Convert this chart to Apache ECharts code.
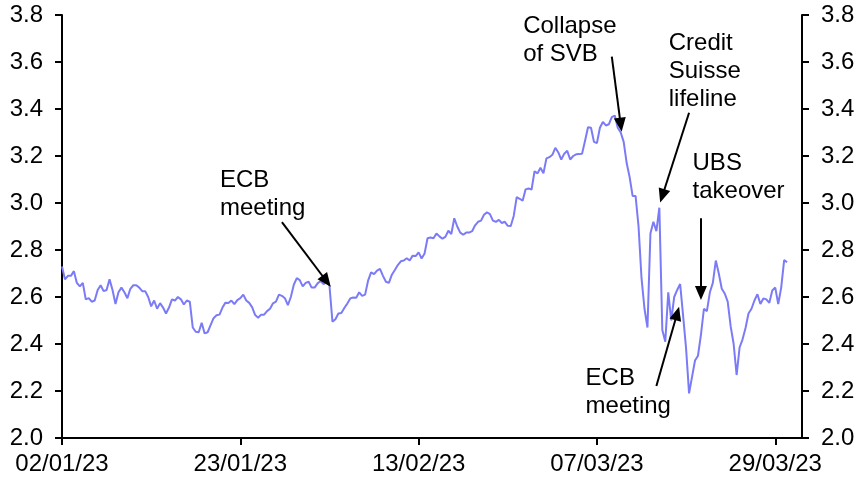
<!DOCTYPE html>
<html>
<head>
<meta charset="utf-8">
<script src="https://cdn.jsdelivr.net/npm/echarts@6/dist/echarts.min.js"></script>
<style>
html,body{margin:0;padding:0;background:#fff;}
#chart{width:863px;height:483px;}
</style>
</head>
<body>
<div id="chart"></div>
<script>
// Tick labels on the x axis (one every samplesPerTick sample slots)
const tickLabels = ['02/01/23', '23/01/23', '13/02/23', '07/03/23', '29/03/23'];
const samplesPerTick = 60;
const slotCount = 250;

// Yield values, one per sample slot
const yields = [
2.73,2.675,2.69,2.69,2.71,2.66,2.645,2.66,2.59,2.595,
2.58,2.585,2.63,2.65,2.625,2.63,2.675,2.63,2.57,2.62,
2.64,2.62,2.595,2.635,2.65,2.65,2.64,2.625,2.625,2.60,
2.56,2.585,2.55,2.574,2.555,2.53,2.555,2.59,2.585,2.60,
2.59,2.568,2.585,2.58,2.47,2.452,2.45,2.49,2.445,2.45,
2.48,2.51,2.522,2.525,2.555,2.576,2.574,2.585,2.57,2.587,
2.595,2.61,2.585,2.575,2.556,2.523,2.512,2.525,2.525,2.54,
2.55,2.573,2.58,2.61,2.605,2.595,2.565,2.60,2.652,2.68,
2.672,2.645,2.66,2.665,2.64,2.64,2.658,2.668,2.655,2.663,
2.648,2.495,2.505,2.53,2.532,2.553,2.572,2.594,2.598,2.597,
2.62,2.605,2.61,2.67,2.705,2.697,2.712,2.72,2.69,2.665,
2.66,2.695,2.715,2.736,2.752,2.755,2.765,2.755,2.776,2.774,
2.79,2.764,2.785,2.85,2.853,2.85,2.87,2.858,2.848,2.856,
2.882,2.868,2.935,2.9,2.874,2.865,2.874,2.874,2.88,2.905,
2.92,2.925,2.95,2.96,2.953,2.925,2.92,2.928,2.915,2.92,
2.903,2.902,2.945,3.025,3.018,3.01,3.058,3.062,3.057,3.135,
3.126,3.15,3.126,3.19,3.195,3.205,3.235,3.215,3.185,3.21,
3.222,3.185,3.2,3.207,3.208,3.21,3.265,3.322,3.32,3.26,
3.255,3.32,3.345,3.33,3.335,3.365,3.372,3.32,3.30,3.26,
3.17,3.11,3.03,3.03,2.9,2.68,2.55,2.47,2.87,2.92,
2.88,2.98,2.46,2.41,2.62,2.50,2.6,2.63,2.655,2.52,
2.38,2.19,2.26,2.33,2.35,2.44,2.55,2.54,2.62,2.66,
2.755,2.70,2.635,2.615,2.58,2.475,2.40,2.268,2.385,2.42,
2.468,2.53,2.55,2.585,2.612,2.57,2.594,2.59,2.575,2.628,
2.64,2.57,2.64,2.757,2.748
];

// Annotations: text, text anchor [slot, value], arrow [from slot, from value, to slot, to value]
const annotationTexts = ['ECB\nmeeting', 'Collapse\nof SVB', 'Credit\nSuisse\nlifeline', 'UBS\ntakeover', 'ECB\nmeeting'];
const annotationAnchors = [[53.0, 3.036], [154.6, 3.694], [204.1, 3.562], [212.2, 3.109], [175.5, 2.194]];
const annotationArrows = [
  [74.4, 2.919, 88.8, 2.667],
  [185.4, 3.623, 187.6, 3.333],
  [210.8, 3.384, 202.0, 3.030],
  [215.3, 2.935, 215.3, 2.617],
  [200.2, 2.221, 207.4, 2.530]
];

const categories = Array.from({length: slotCount}, (_, i) => String(i));
const isTick = (i) => i % samplesPerTick === 0;
const FONT = 'Liberation Sans, Arial, sans-serif';

const chart = echarts.init(document.getElementById('chart'), null, {renderer: 'canvas'});

const yAxisCommon = {
  type: 'value', min: 2.0, max: 3.8, interval: 0.2,
  axisLine: {show: true, lineStyle: {color: '#000', width: 2}},
  axisTick: {show: true, length: 7, inside: false, lineStyle: {color: '#000', width: 2}},
  splitLine: {show: false},
  axisLabel: {color: '#000', fontSize: 24, fontFamily: FONT, margin: 19,
    formatter: (v) => v.toFixed(1)}
};

chart.setOption({
  animation: false,
  backgroundColor: '#fff',
  grid: {left: 62, right: 61, top: 15, bottom: 45, containLabel: false},
  xAxis: {
    type: 'category', data: categories, boundaryGap: false,
    axisLine: {show: true, lineStyle: {color: '#000', width: 2}},
    axisTick: {show: true, length: 7, interval: (i) => isTick(i), lineStyle: {color: '#000', width: 2}},
    axisLabel: {show: true, interval: (i) => isTick(i), color: '#000', fontSize: 24, fontFamily: FONT, margin: 14,
      formatter: (v, i) => tickLabels[i / samplesPerTick] || ''},
    splitLine: {show: false}
  },
  yAxis: [
    Object.assign({position: 'left'}, yAxisCommon),
    Object.assign({position: 'right'}, yAxisCommon)
  ],
  series: [{
    type: 'line',
    data: yields,
    yAxisIndex: 0,
    showSymbol: false,
    symbol: 'none',
    lineStyle: {color: '#7b7bf7', width: 2},
    itemStyle: {color: '#7b7bf7'},
    markLine: {
      silent: true,
      animation: false,
      symbol: ['none', 'triangle'],
      symbolSize: [12, 14],
      lineStyle: {color: '#000', width: 2, type: 'solid'},
      itemStyle: {color: '#000'},
      label: {show: false},
      data: annotationArrows.map(a => [{coord: [a[0], a[1]]}, {coord: [a[2], a[3]]}])
    },
    markPoint: {
      silent: true,
      animation: false,
      symbol: 'rect',
      symbolSize: 1,
      itemStyle: {color: 'rgba(0,0,0,0)'},
      label: {show: true, position: 'right', distance: 0, color: '#000', fontSize: 24,
        fontFamily: FONT, lineHeight: 28, align: 'left'},
      data: annotationTexts.map((t, k) => ({coord: annotationAnchors[k], value: t,
        label: {formatter: t}}))
    }
  }]
});
</script>
</body>
</html>
